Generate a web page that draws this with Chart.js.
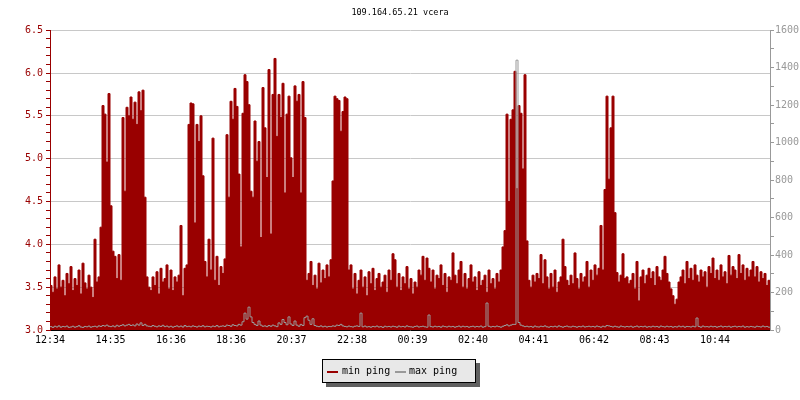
<!DOCTYPE html>
<html>
<head>
<meta charset="utf-8">
<script src="https://cdn.jsdelivr.net/npm/chart.js@4.4.1/dist/chart.umd.min.js"></script>
<style>
  html, body { margin: 0; padding: 0; background: #fff; }
  canvas { display: block; }
</style>
</head>
<body>
<canvas id="pingChart" width="800" height="400"></canvas>
<script>
// one sample every 4 minutes, starting 12:34
const sampleMinutes = 4;
const timeLabels = ['12:34', '14:35', '16:36', '18:36', '20:37', '22:38', '00:39', '02:40', '04:41', '06:42', '08:43', '10:44'];

// min ping (ms) - left axis
const minPing = [
  3.52, 3.44, 3.62, 3.48, 3.76, 3.50, 3.58, 3.40, 3.66, 3.54,
  3.74, 3.46, 3.60, 3.52, 3.70, 3.42, 3.78, 3.55, 3.48, 3.64,
  3.50, 3.38, 4.06, 3.56, 3.62, 4.20, 5.62, 5.52, 4.96, 5.76,
  4.45, 3.92, 3.86, 3.60, 3.88, 3.58, 5.48, 4.62, 5.60, 5.50,
  5.72, 5.46, 5.66, 5.40, 5.78, 5.56, 5.80, 4.55, 3.62, 3.50,
  3.46, 3.62, 3.52, 3.68, 3.42, 3.72, 3.56, 3.60, 3.76, 3.48,
  3.70, 3.46, 3.62, 3.56, 3.64, 4.22, 3.40, 3.72, 3.76, 5.40,
  5.65, 5.64, 4.25, 5.40, 5.20, 5.50, 4.80, 3.80, 3.62, 4.06,
  3.70, 5.24, 3.58, 3.86, 3.52, 3.74, 3.66, 3.83, 5.28, 4.55,
  5.67, 5.46, 5.82, 5.61, 4.82, 3.97, 5.53, 5.98, 5.90, 5.63,
  4.62, 4.55, 5.44, 4.97, 5.20, 4.08, 5.83, 5.36, 4.78, 6.04,
  4.12, 5.75, 6.17, 5.26, 5.75, 5.48, 5.88, 4.60, 5.52, 5.73,
  5.01, 4.78, 5.85, 5.67, 5.75, 4.60, 5.90, 5.48, 3.58, 3.66,
  3.80, 3.52, 3.64, 3.48, 3.78, 3.55, 3.70, 3.60, 3.76, 3.62,
  3.82, 4.74, 5.73, 5.70, 5.68, 5.32, 5.55, 5.72, 5.70, 3.70,
  3.76, 3.48, 3.66, 3.42, 3.58, 3.70, 3.50, 3.62, 3.40, 3.68,
  3.54, 3.72, 3.46, 3.60, 3.66, 3.50, 3.56, 3.64, 3.44, 3.70,
  3.58, 3.89, 3.82, 3.50, 3.66, 3.46, 3.62, 3.54, 3.74, 3.48,
  3.60, 3.42, 3.56, 3.50, 3.70, 3.64, 3.86, 3.58, 3.84, 3.72,
  3.56, 3.70, 3.48, 3.64, 3.60, 3.76, 3.52, 3.66, 3.44, 3.62,
  3.58, 3.90, 3.64, 3.54, 3.70, 3.80, 3.50, 3.66, 3.48, 3.60,
  3.76, 3.56, 3.62, 3.46, 3.68, 3.52, 3.58, 3.64, 3.44, 3.70,
  3.54, 3.60, 3.48, 3.66, 3.56, 3.70, 3.97, 4.16, 5.52, 4.50,
  5.46, 5.57, 6.02, 4.65, 5.62, 5.53, 4.88, 5.98, 4.04, 3.58,
  3.50, 3.64, 3.56, 3.66, 3.60, 3.88, 3.54, 3.82, 3.62, 3.48,
  3.66, 3.50, 3.70, 3.44, 3.56, 3.62, 4.06, 3.74, 3.58, 3.52,
  3.64, 3.54, 3.90, 3.60, 3.48, 3.66, 3.56, 3.62, 3.80, 3.50,
  3.70, 3.58, 3.76, 3.64, 3.72, 4.22, 3.70, 4.64, 5.73, 4.76,
  5.36, 5.73, 4.37, 3.67, 3.56, 3.64, 3.89, 3.60, 3.62, 3.54,
  3.58, 3.66, 3.48, 3.80, 3.34, 3.62, 3.70, 3.54, 3.64, 3.72,
  3.60, 3.68, 3.52, 3.74, 3.62, 3.58, 3.70, 3.86, 3.66, 3.56,
  3.48, 3.40, 3.30, 3.36, 3.56, 3.62, 3.70, 3.54, 3.80, 3.60,
  3.72, 3.58, 3.76, 3.64, 3.56, 3.70, 3.62, 3.68, 3.50, 3.74,
  3.66, 3.84, 3.60, 3.70, 3.58, 3.76, 3.62, 3.68, 3.54, 3.87,
  3.64, 3.74, 3.70, 3.60, 3.88, 3.66, 3.76, 3.58, 3.72, 3.62,
  3.70, 3.80, 3.62, 3.74, 3.56, 3.68, 3.60, 3.66, 3.52, 3.58
];

// max ping (ms) - right axis
const maxPing = [
  18, 14, 20, 16, 22, 15, 19, 17, 21, 14,
  16, 20, 15, 18, 23, 16, 14, 19, 17, 21,
  15, 18, 20, 16, 22, 19, 24, 21, 26, 20,
  18, 22, 17, 25, 20, 24, 28, 22, 26, 30,
  24, 27, 22, 32, 26, 38, 24, 30, 22, 20,
  18, 24, 20, 17, 22, 19, 25, 18, 21, 16,
  20, 15, 19, 22, 17, 21, 16, 24, 18, 20,
  17, 22, 19, 16, 21, 18, 23, 17, 20, 19,
  16, 21, 18, 24, 17, 20, 22, 19, 26, 24,
  20, 28, 24, 22, 30, 26, 44, 90, 58, 122,
  70, 40, 30, 24, 48, 26, 20, 22, 18, 24,
  20, 26, 22, 18, 38, 30, 56, 40, 28, 70,
  32, 24, 48, 26, 20, 30, 24, 66, 74, 52,
  30, 60, 24, 20, 18, 22, 17, 20, 16, 19,
  18, 22, 20, 26, 24, 30, 22, 19, 17, 21,
  18, 16, 20, 22, 19, 90, 17, 21, 16, 18,
  15, 19, 17, 21, 16, 18, 14, 20, 17, 19,
  16, 20, 18, 15, 21, 17, 19, 16, 22, 18,
  17, 15, 19, 21, 16, 18, 20, 17, 15, 80,
  18, 16, 20, 17, 19, 15, 21, 18, 16, 20,
  17, 19, 15, 18, 21, 16, 20, 17, 19, 15,
  18, 20, 16, 19, 17, 21, 15, 18, 144, 20,
  16, 19, 17, 21, 18, 15, 20, 24, 28, 22,
  26, 30, 30, 1440, 40, 26, 22, 18, 20, 17,
  19, 15, 21, 17, 16, 20, 18, 22, 17, 15,
  19, 17, 20, 16, 22, 18, 15, 19, 21, 17,
  16, 20, 18, 15, 19, 17, 21, 16, 18, 20,
  17, 19, 16, 21, 18, 15, 20, 17, 24, 22,
  19, 16, 20, 17, 15, 21, 18, 16, 19, 17,
  20, 15, 18, 21, 16, 19, 17, 20, 15, 18,
  16, 20, 17, 19, 15, 21, 18, 16, 20, 17,
  19, 15, 18, 16, 21, 17, 20, 15, 19, 18,
  16, 20, 17, 64, 19, 15, 21, 17, 18, 16,
  20, 17, 19, 15, 18, 21, 16, 19, 17, 20,
  15, 18, 20, 16, 19, 17, 21, 15, 18, 16,
  19, 17, 15, 20, 18, 16, 21, 17, 19, 15
];

const darkRed = '#990000';
const grey = '#999999';
const font = "'DejaVu Sans Mono', monospace";

function toMinutes(t) {
    const [h, m] = t.split(':').map(Number);
    return h * 60 + m;
}
const startMin = toMinutes(timeLabels[0]);
const tickPos = timeLabels.map(t => ((toMinutes(t) - startMin + 1440) % 1440) / sampleMinutes);

// stepped series: each sample covers [i, i+1]
function toSteps(arr) {
    const pts = arr.map((v, i) => ({ x: i, y: v }));
    pts.push({ x: arr.length, y: arr[arr.length - 1] });
    return pts;
}

const isHalf = v => Math.abs(v * 2 - Math.round(v * 2)) < 1e-6;

// rrd-style legend box with drop shadow
const legendBox = {
    id: 'legendBox',
    afterDraw(chart) {
        const ctx = chart.ctx;
        const ds = chart.data.datasets;
        ctx.save();
        ctx.fillStyle = '#606060';
        ctx.fillRect(326, 363, 154, 24);
        ctx.fillStyle = '#e8e8e8';
        ctx.fillRect(322, 359, 154, 24);
        ctx.strokeStyle = '#000';
        ctx.lineWidth = 1;
        ctx.strokeRect(322.5, 359.5, 153, 23);
        ctx.font = '10px ' + font;
        ctx.textBaseline = 'middle';
        ctx.fillStyle = ds[1].borderColor;
        ctx.fillRect(327, 371, 11, 2);
        ctx.fillStyle = '#000';
        ctx.fillText(ds[1].label, 342, 371.5);
        ctx.fillStyle = ds[0].borderColor;
        ctx.fillRect(395, 371, 11, 2);
        ctx.fillStyle = '#000';
        ctx.fillText(ds[0].label, 409, 371.5);
        ctx.restore();
    }
};

Chart.defaults.font.family = font;
Chart.defaults.font.size = 10;

new Chart(document.getElementById('pingChart'), {
    type: 'line',
    data: {
        datasets: [{
            label: 'max ping',
            data: toSteps(maxPing),
            yAxisID: 'y2',
            borderColor: grey,
            borderWidth: 1,
            stepped: true,
            pointRadius: 0,
            fill: false,
            order: 0
        }, {
            label: 'min ping',
            data: toSteps(minPing),
            yAxisID: 'y',
            borderColor: darkRed,
            backgroundColor: darkRed,
            borderWidth: 1,
            stepped: true,
            pointRadius: 0,
            fill: 'start',
            order: 1
        }]
    },
    options: {
        responsive: false,
        animation: false,
        devicePixelRatio: 1,
        layout: { padding: { left: 0, right: 0, top: 0, bottom: 50 } },
        plugins: {
            legend: { display: false },
            tooltip: { enabled: false },
            title: {
                display: true,
                text: '109.164.65.21 vcera',
                color: '#000',
                font: { size: 8.5, weight: 'normal' },
                padding: { top: 8, bottom: 12 }
            }
        },
        scales: {
            x: {
                type: 'linear',
                min: 0,
                max: minPing.length,
                afterBuildTicks: s => { s.ticks = tickPos.map(v => ({ value: v })); },
                ticks: {
                    autoSkip: false,
                    maxRotation: 0,
                    color: '#000',
                    padding: 7,
                    callback: (v, i) => timeLabels[i]
                },
                grid: { drawOnChartArea: false, color: '#000', tickColor: '#000', tickLength: -3 },
                border: { color: '#000' },
                afterFit: s => { s.height = 20; }
            },
            y: {
                position: 'left',
                min: 3,
                max: 6.5,
                ticks: {
                    stepSize: 0.1,
                    autoSkip: false,
                    color: darkRed,
                    padding: 3,
                    callback: v => isHalf(v) ? v.toFixed(1) : ''
                },
                grid: {
                    color: c => (isHalf(c.tick.value) && c.tick.value > 3.01) ? '#c8c8c8' : 'rgba(0,0,0,0)',
                    tickColor: darkRed,
                    tickLength: 4
                },
                border: { color: darkRed },
                afterFit: s => { s.width = 50; }
            },
            y2: {
                position: 'right',
                min: 0,
                max: 1600,
                ticks: {
                    stepSize: 100,
                    autoSkip: false,
                    color: grey,
                    padding: 1,
                    callback: v => v % 200 === 0 ? v : ''
                },
                grid: { drawOnChartArea: false, color: grey, tickColor: grey, tickLength: 4 },
                border: { color: grey },
                afterFit: s => { s.width = 30; }
            }
        }
    },
    plugins: [legendBox]
});
</script>
</body>
</html>
